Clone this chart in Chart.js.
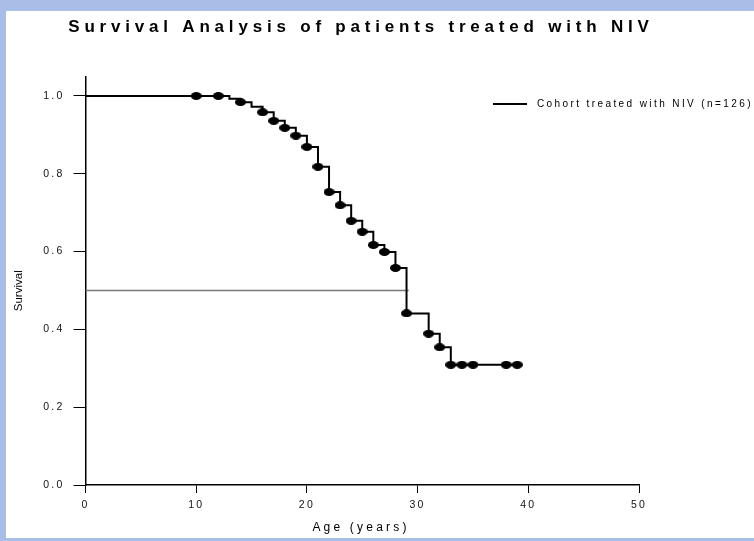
<!DOCTYPE html>
<html>
<head>
<meta charset="utf-8">
<script src="https://cdn.jsdelivr.net/npm/chart.js@4/dist/chart.umd.min.js"></script>
<style>
  html, body { margin: 0; padding: 0; }
  body { width: 754px; height: 541px; background: #a9bee6; position: relative; overflow: hidden; }
  #panel { position: absolute; left: 6px; top: 11px; width: 748px; height: 527px; background: #ffffff; }
  #chart { display: block; }
</style>
</head>
<body>
<div id="panel"><canvas id="chart" width="748" height="527"></canvas></div>
<script>
// Kaplan-Meier estimate: age (years) and survival after each step
const survTimes  = [0, 10, 12, 13, 14, 15, 16, 17, 18, 19, 20, 21, 22, 23, 24, 25, 26, 27, 28, 29, 31, 32, 33, 34, 35, 38, 39];
const survValues = [1.0, 1.0, 1.0, 0.993, 0.984, 0.972, 0.958, 0.936, 0.918, 0.898, 0.869, 0.818, 0.753, 0.719, 0.679, 0.651, 0.617, 0.599, 0.558, 0.441, 0.389, 0.354, 0.309, 0.309, 0.309, 0.309, 0.309];

// Ages marked with a symbol on the curve
const markTimes = [10, 12, 14, 16, 17, 18, 19, 20, 21, 22, 23, 24, 25, 26, 27, 28, 29, 31, 32, 33, 34, 35, 38, 39];

// Median survival guide line
const medianAges = [0, 29.2];
const medianSurvival = 0.5;

// Axis ticks
const xTickValues = [0, 10, 20, 30, 40, 50];
const yTickValues = [0.0, 0.2, 0.4, 0.6, 0.8, 1.0];

const titleText = 'Survival Analysis of patients treated with NIV';
const seriesLabel = 'Cohort treated with NIV (n=126)';
const xAxisLabel = 'Age (years)';
const yAxisLabel = 'Survival';

const curvePoints = survTimes.map((t, i) => ({ x: t, y: survValues[i] }));
const markPoints = markTimes.map(t => ({ x: t, y: survValues[survTimes.indexOf(t)] }));
const medianPoints = medianAges.map(a => ({ x: a, y: medianSurvival }));

// Filled oval marker used for the curve symbols
const marker = document.createElement('canvas');
marker.width = 11; marker.height = 8;
(function () {
  const m = marker.getContext('2d');
  m.fillStyle = '#000';
  m.beginPath();
  m.ellipse(5.5, 4, 5.5, 4, 0, 0, Math.PI * 2);
  m.fill();
})();

const FONT = "'Liberation Sans', Arial, Helvetica, sans-serif";

// Spaced-out lettering for tick labels, plus title, legend and axis titles
const textPlugin = {
  id: 'chartText',
  beforeDraw(chart) {
    chart.ctx.letterSpacing = '2.2px';
  },
  afterDraw(chart) {
    const ctx = chart.ctx;
    // title
    ctx.save();
    ctx.letterSpacing = '4.8px';
    ctx.font = 'bold 17px ' + FONT;
    ctx.fillStyle = '#000';
    ctx.textAlign = 'center';
    ctx.textBaseline = 'middle';
    ctx.fillText(titleText, 355, 16);
    ctx.restore();

    // legend
    const ds = chart.data.datasets[0];
    ctx.save();
    ctx.strokeStyle = ds.borderColor;
    ctx.lineWidth = ds.borderWidth;
    ctx.beginPath();
    ctx.moveTo(487, 93);
    ctx.lineTo(521, 93);
    ctx.stroke();
    ctx.letterSpacing = '2.4px';
    ctx.font = '10px ' + FONT;
    ctx.fillStyle = '#000';
    ctx.textAlign = 'left';
    ctx.textBaseline = 'middle';
    ctx.fillText(ds.label, 531, 93);
    ctx.restore();

    // axis titles
    const area = chart.chartArea;
    ctx.save();
    ctx.fillStyle = '#000';
    ctx.textAlign = 'center';
    ctx.textBaseline = 'middle';
    ctx.letterSpacing = '3.2px';
    ctx.font = '12px ' + FONT;
    ctx.fillText(xAxisLabel, 355, 517);
    ctx.letterSpacing = '0px';
    ctx.font = '11.5px ' + FONT;
    ctx.translate(13, (area.top + area.bottom) / 2 + 10);
    ctx.rotate(-Math.PI / 2);
    ctx.fillText(yAxisLabel, 0, 0);
    ctx.restore();
  }
};

new Chart(document.getElementById('chart'), {
  type: 'line',
  data: {
    datasets: [
      {
        label: seriesLabel,
        data: curvePoints,
        stepped: 'before',
        borderColor: '#000000',
        borderWidth: 2,
        pointRadius: 0,
        fill: false,
        order: 1
      },
      {
        label: 'marks',
        type: 'scatter',
        data: markPoints,
        showLine: false,
        pointStyle: marker,
        pointRadius: 5,
        pointHoverRadius: 5,
        order: 0
      },
      {
        label: 'median',
        data: medianPoints,
        borderColor: '#7a7a7a',
        borderWidth: 1.5,
        pointRadius: 0,
        fill: false,
        order: 2
      }
    ]
  },
  options: {
    responsive: false,
    animation: false,
    events: [],
    layout: { padding: { left: 0, top: 65.5, right: 115, bottom: 0 } },
    plugins: {
      legend: { display: false },
      title: { display: false },
      tooltip: { enabled: false }
    },
    scales: {
      x: {
        type: 'linear',
        min: 0,
        max: 50,
        afterFit(scale) { scale.height = 53; },
        afterBuildTicks(scale) { scale.ticks = xTickValues.map(v => ({ value: v })); },
        grid: { display: true, drawOnChartArea: false, drawTicks: true, tickLength: 8, color: '#000', lineWidth: 1 },
        border: { display: true, color: '#000', width: 1.5 },
        ticks: { autoSkip: false, maxRotation: 0, padding: 6, color: '#111', font: { family: FONT, size: 10.5 } }
      },
      y: {
        type: 'linear',
        min: 0,
        max: 1.05,
        afterFit(scale) { scale.width = 79.5; },
        afterBuildTicks(scale) { scale.ticks = yTickValues.map(v => ({ value: v })); },
        grid: { display: true, drawOnChartArea: false, drawTicks: true, tickLength: 12, color: '#000', lineWidth: 1 },
        border: { display: true, color: '#000', width: 1.5 },
        ticks: {
          autoSkip: false,
          padding: 9,
          color: '#111',
          font: { family: FONT, size: 10.5 },
          callback: v => Number(v).toFixed(1)
        }
      }
    }
  },
  plugins: [textPlugin]
});
</script>
</body>
</html>
